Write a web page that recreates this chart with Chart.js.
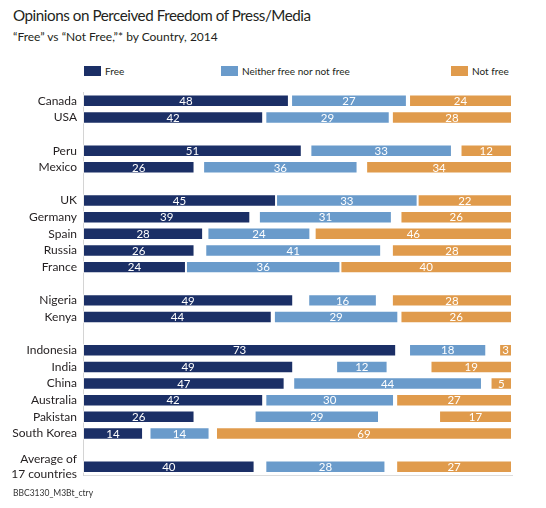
<!DOCTYPE html>
<html>
<head>
<meta charset="utf-8">
<script src="https://cdn.jsdelivr.net/npm/chart.js@4"></script>
<style>
  html, body { margin:0; padding:0; background:#fff; }
  #wrap { position:relative; width:546px; height:508px; font-family: Lato, "Open Sans", sans-serif; color:#231f20; }
  #title { position:absolute; left:13px; top:6px; font-size:15.2px; letter-spacing:-0.45px; white-space:nowrap; }
  #subtitle { position:absolute; left:13px; top:29px; font-size:12px; white-space:nowrap; }
  #legend .item { position:absolute; top:65px; display:flex; align-items:center; font-size:10px; white-space:nowrap; }
  #legend .box { width:17px; height:10px; margin-right:4px; }
  #foot { position:absolute; left:13px; top:488px; font-size:8.5px; color:#333; }
  canvas { position:absolute; left:0; top:0; }
</style>
</head>
<body>
<div id="wrap">
  <div id="title">Opinions on Perceived Freedom of Press/Media</div>
  <div id="subtitle">“Free” vs “Not Free,”* by Country, 2014</div>
  <div id="legend"></div>
  <canvas id="c" width="546" height="508" style="width:546px;height:508px"></canvas>
  <div id="foot">BBC3130_M3Bt_ctry</div>
</div>
<script>
// ---- data ----
const categories = ["Canada","USA","","Peru","Mexico","","UK","Germany","Spain","Russia","France","",
  "Nigeria","Kenya","","Indonesia","India","China","Australia","Pakistan","South Korea","",["Average of","17 countries"]];
const seriesNames = ["Free","Neither free nor not free","Not free"];
const freeValues    = [48,42,null,51,26,null,45,39,28,26,24,null,49,44,null,73,49,47,42,26,14,null,40];
const neitherValues = [27,29,null,33,36,null,33,31,24,41,36,null,16,29,null,18,12,44,30,29,14,null,28];
const notFreeValues = [24,28,null,12,34,null,22,26,46,28,40,null,28,26,null,3,19,5,27,17,69,null,27];

// ---- style ----
const COLORS = ["#1b2f66","#6a9bcb","#e09b4c"];
const LEGEND_X = [84, 221, 451];

// gap (don't know share) split evenly on both sides of the middle segment
const gapValues = freeValues.map((f,i) => f == null ? null :
  (100 - f - neitherValues[i] - notFreeValues[i]) / 2);

const barStyle = { borderWidth: 1, borderColor: "rgba(255,255,255,0.55)", borderSkipped: false,
  barPercentage: 0.75, categoryPercentage: 1 };

const datasets = [
  Object.assign({ label: seriesNames[0], data: freeValues, backgroundColor: COLORS[0], showValue: true }, barStyle),
  Object.assign({ label: "gap1", data: gapValues, backgroundColor: "rgba(0,0,0,0)", borderWidth: 0, barPercentage: 0.75, categoryPercentage: 1 }),
  Object.assign({ label: seriesNames[1], data: neitherValues, backgroundColor: COLORS[1], showValue: true }, barStyle),
  Object.assign({ label: "gap2", data: gapValues, backgroundColor: "rgba(0,0,0,0)", borderWidth: 0, barPercentage: 0.75, categoryPercentage: 1 }),
  Object.assign({ label: seriesNames[2], data: notFreeValues, backgroundColor: COLORS[2], showValue: true }, barStyle)
];

const valueLabels = {
  id: "valueLabels",
  afterDatasetsDraw(chart) {
    const ctx = chart.ctx;
    ctx.save();
    ctx.font = "11.5px Lato, 'Open Sans', sans-serif";
    ctx.fillStyle = "#ffffff";
    ctx.textAlign = "center";
    ctx.textBaseline = "middle";
    chart.data.datasets.forEach((ds, di) => {
      if (!ds.showValue) return;
      const meta = chart.getDatasetMeta(di);
      meta.data.forEach((el, i) => {
        const v = ds.data[i];
        if (v == null) return;
        const p = el.getCenterPoint();
        ctx.fillText(String(v), p.x, p.y + 0.5);
      });
    });
    ctx.restore();
  }
};

const chart = new Chart(document.getElementById("c"), {
  type: "bar",
  data: { labels: categories, datasets },
  options: {
    indexAxis: "y",
    responsive: false,
    animation: false,
    layout: { padding: { top: 92.5, right: 34, bottom: 33, left: 0 } },
    plugins: { legend: { display: false }, tooltip: { enabled: false }, title: { display: false } },
    scales: {
      x: {
        stacked: true, min: 0, max: 100,
        grid: { display: false, drawTicks: false },
        ticks: { display: false },
        border: { display: true, color: "#dcdcdc", width: 1 },
        afterFit: s => { s.height = 0; }
      },
      y: {
        stacked: true,
        grid: { display: false, drawTicks: false, tickLength: 0 },
        border: { display: true, color: "#d4d4d4", width: 1 },
        ticks: { color: "#231f20", font: { family: "Lato, 'Open Sans', sans-serif", size: 12 }, padding: 6, autoSkip: false },
        afterFit: s => { s.width = 83; }
      }
    }
  },
  plugins: [valueLabels]
});

// HTML legend built from the chart's datasets
const legend = document.getElementById("legend");
chart.data.datasets.filter(d => d.showValue).forEach((d, i) => {
  const item = document.createElement("div");
  item.className = "item";
  item.style.left = LEGEND_X[i] + "px";
  const box = document.createElement("span");
  box.className = "box";
  box.style.background = d.backgroundColor;
  const txt = document.createElement("span");
  txt.textContent = d.label;
  item.appendChild(box); item.appendChild(txt);
  legend.appendChild(item);
});
</script>
</body>
</html>
